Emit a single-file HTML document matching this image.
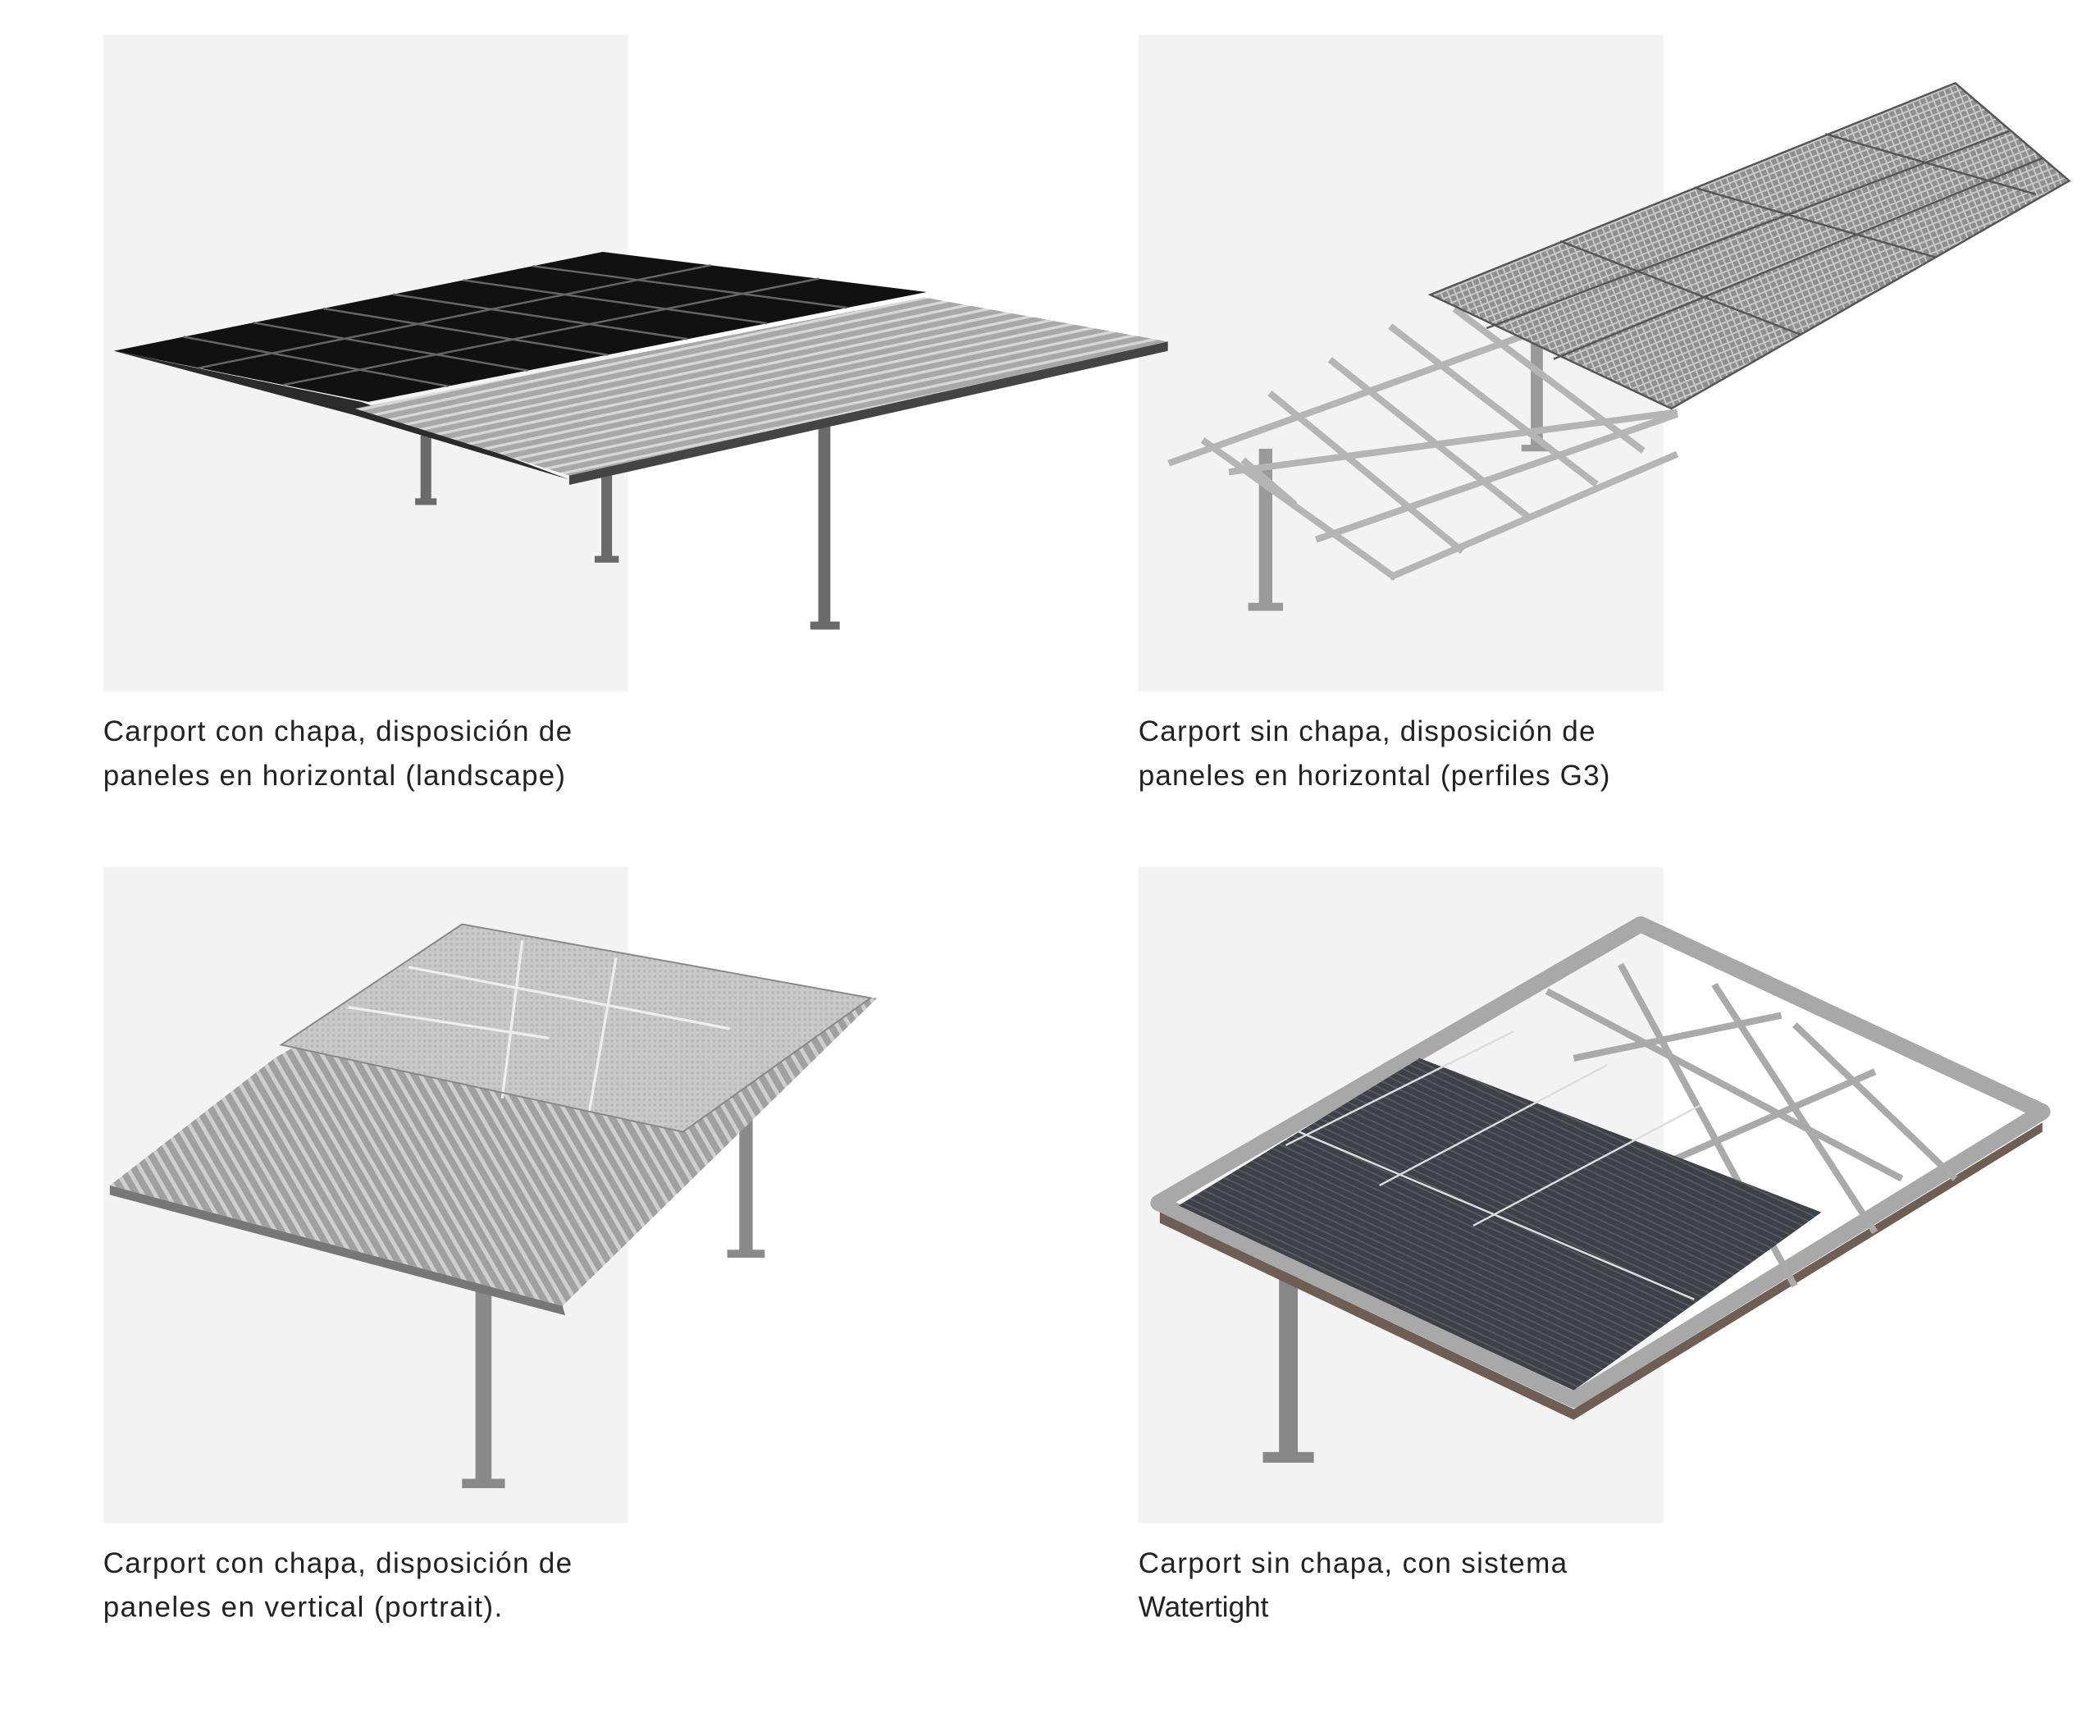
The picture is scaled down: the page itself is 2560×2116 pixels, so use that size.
<!DOCTYPE html>
<html><head><meta charset="utf-8"><style>
html,body{margin:0;padding:0;background:#fff;}
svg{display:block;}
text{font-family:"Liberation Sans",sans-serif;font-size:21.5px;fill:#222;}
</style></head><body>
<svg width="2560" height="2116" viewBox="0 0 1568 1296" xmlns="http://www.w3.org/2000/svg">
<defs>
<pattern id="corr" width="6" height="6" patternUnits="userSpaceOnUse" patternTransform="rotate(-12)">
<rect width="6" height="6" fill="#a8a8a8"/><rect width="6" height="2" fill="#d8d8d8"/>
</pattern>
<pattern id="corr2" width="8" height="8" patternUnits="userSpaceOnUse" patternTransform="rotate(60)">
<rect width="8" height="8" fill="#a0a0a0"/><rect width="8" height="3" fill="#cfcfcf"/>
</pattern>
<pattern id="cell" width="5" height="5" patternUnits="userSpaceOnUse" patternTransform="rotate(-22)">
<rect width="5" height="5" fill="#8e8e8e"/><rect width="5" height="1.2" fill="#c8c8c8"/><rect width="1.2" height="5" fill="#c8c8c8"/>
</pattern>
<pattern id="lp" width="4" height="4" patternUnits="userSpaceOnUse">
<rect width="4" height="4" fill="#c9c9c9"/><rect width="2" height="2" fill="#b8b8b8"/>
</pattern>
<pattern id="dp" width="5" height="5" patternUnits="userSpaceOnUse" patternTransform="rotate(25)">
<rect width="5" height="5" fill="#3e4147"/><rect width="5" height="1" fill="#5a5d63"/>
</pattern>
</defs>
<rect x="77" y="26" width="392" height="490" fill="#f3f3f3"/>
<rect x="850" y="26" width="392" height="490" fill="#f3f3f3"/>
<rect x="77" y="647" width="392" height="490" fill="#f3f3f3"/>
<rect x="850" y="647" width="392" height="490" fill="#f3f3f3"/>

<!-- Carport 1 -->
<g fill="#6a6a6a">
<rect x="314" y="325" width="8" height="50"/><rect x="310" y="372" width="16" height="5"/>
<rect x="449" y="345" width="8" height="73"/><rect x="444" y="415" width="18" height="5"/>
<rect x="611" y="310" width="9" height="158"/><rect x="605" y="464" width="22" height="6"/>
</g>
<polygon points="85,262 270,300 425,358 265,310" fill="#2a2a2a"/>
<polygon points="265,305 690,222 872,255 425,355" fill="url(#corr)"/>
<polygon points="425,355 872,255 872,262 425,362" fill="#444"/>
<polygon points="85,262 450,188 692,218 275,300" fill="#111"/>
<g stroke="#666" stroke-width="1.5">
<line x1="148.3" y1="274.7" x2="530.7" y2="198"/>
<line x1="211.7" y1="287.3" x2="611.3" y2="208"/>
<line x1="137.1" y1="251.4" x2="334.6" y2="288.3"/>
<line x1="189.3" y1="240.9" x2="394.1" y2="276.6"/>
<line x1="241.4" y1="230.3" x2="453.7" y2="264.9"/>
<line x1="293.6" y1="219.7" x2="513.3" y2="253.1"/>
<line x1="345.7" y1="209.1" x2="572.9" y2="241.4"/>
<line x1="397.9" y1="198.6" x2="632.4" y2="229.7"/>
</g>

<!-- Carport 2 -->
<g fill="#9a9a9a">
<rect x="940" y="335" width="10" height="118"/><rect x="932" y="450" width="26" height="6"/>
<rect x="1143" y="255" width="9" height="80"/><rect x="1136" y="332" width="22" height="5"/>
</g>
<g stroke="#b5b5b5" stroke-width="5" stroke-linecap="square">
<line x1="875" y1="345" x2="1145" y2="248"/><line x1="920" y1="352" x2="1250" y2="308"/>
<line x1="985" y1="402" x2="1250" y2="310"/><line x1="1040" y1="430" x2="1250" y2="340"/>
<line x1="900" y1="330" x2="1040" y2="430"/><line x1="950" y1="295" x2="1090" y2="410"/>
<line x1="995" y1="270" x2="1140" y2="385"/><line x1="1040" y1="245" x2="1190" y2="360"/>
<line x1="1088" y1="232" x2="1225" y2="335"/><line x1="930" y1="345" x2="965" y2="375"/>
</g>
<polygon points="1068,220 1460,62 1545,135 1248,305" fill="url(#cell)"/>
<g stroke="#555" stroke-width="1.5">
<line x1="1165" y1="180" x2="1345" y2="250"/><line x1="1265" y1="140" x2="1445" y2="192"/>
<line x1="1363" y1="100" x2="1520" y2="145"/><line x1="1110" y1="245" x2="1500" y2="98"/>
<line x1="1160" y1="268" x2="1525" y2="118"/>
</g>
<polygon points="1068,220 1460,62 1545,135 1248,305" fill="none" stroke="#555" stroke-width="1.5"/>

<!-- Carport 3 -->
<g fill="#8a8a8a">
<rect x="355" y="930" width="12" height="178"/><rect x="345" y="1104" width="32" height="7"/>
<rect x="552" y="812" width="10" height="125"/><rect x="543" y="933" width="28" height="6"/>
</g>
<polygon points="82,885 205,790 300,735 655,745 420,975" fill="url(#corr2)"/>
<polygon points="82,885 420,975 422,982 82,892" fill="#777"/>
<polygon points="210,780 345,690 650,745 510,845" fill="url(#lp)"/>
<g stroke="#eee" stroke-width="2">
<line x1="305" y1="722" x2="545" y2="768"/><line x1="260" y1="752" x2="410" y2="775"/>
<line x1="390" y1="702" x2="375" y2="820"/><line x1="460" y1="715" x2="440" y2="830"/>
</g>
<polygon points="210,780 345,690 650,745 510,845" fill="none" stroke="#888" stroke-width="1.2"/>

<!-- Carport 4 -->
<g fill="#888">
<rect x="955" y="950" width="14" height="138"/><rect x="943" y="1084" width="38" height="8"/>
</g>
<polygon points="865,898 1225,690 1525,830 1175,1045" fill="none" stroke="#a8a8a8" stroke-width="12" stroke-linejoin="round"/>
<polygon points="866,905 1175,1052 1525,838 1525,845 1175,1060 866,913" fill="#6e5e55"/>
<g stroke="#aaa" stroke-width="5">
<line x1="1155" y1="740" x2="1420" y2="880"/><line x1="1175" y1="790" x2="1330" y2="758"/>
<line x1="1240" y1="870" x2="1400" y2="800"/><line x1="1210" y1="720" x2="1340" y2="960"/>
<line x1="1280" y1="735" x2="1400" y2="920"/><line x1="1340" y1="765" x2="1460" y2="880"/>
</g>
<polygon points="880,900 1060,790 1360,905 1175,1038" fill="url(#dp)"/>
<g stroke="#ddd" stroke-width="1.5">
<line x1="970" y1="845" x2="1265" y2="970"/><line x1="960" y1="855" x2="1130" y2="770"/>
<line x1="1030" y1="885" x2="1200" y2="795"/><line x1="1100" y1="915" x2="1270" y2="825"/>
</g>

<!-- Captions -->
<text x="77" y="553" textLength="350">Carport con chapa, disposición de</text>
<text x="77" y="586" textLength="345">paneles en horizontal (landscape)</text>
<text x="850" y="553" textLength="341">Carport sin chapa, disposición de</text>
<text x="850" y="586" textLength="352">paneles en horizontal (perfiles G3)</text>
<text x="77" y="1174" textLength="350">Carport con chapa, disposición de</text>
<text x="77" y="1207" textLength="298">paneles en vertical (portrait).</text>
<text x="850" y="1174" textLength="320">Carport sin chapa, con sistema</text>
<text x="850" y="1207">Watertight</text>
</svg>
</body></html>
